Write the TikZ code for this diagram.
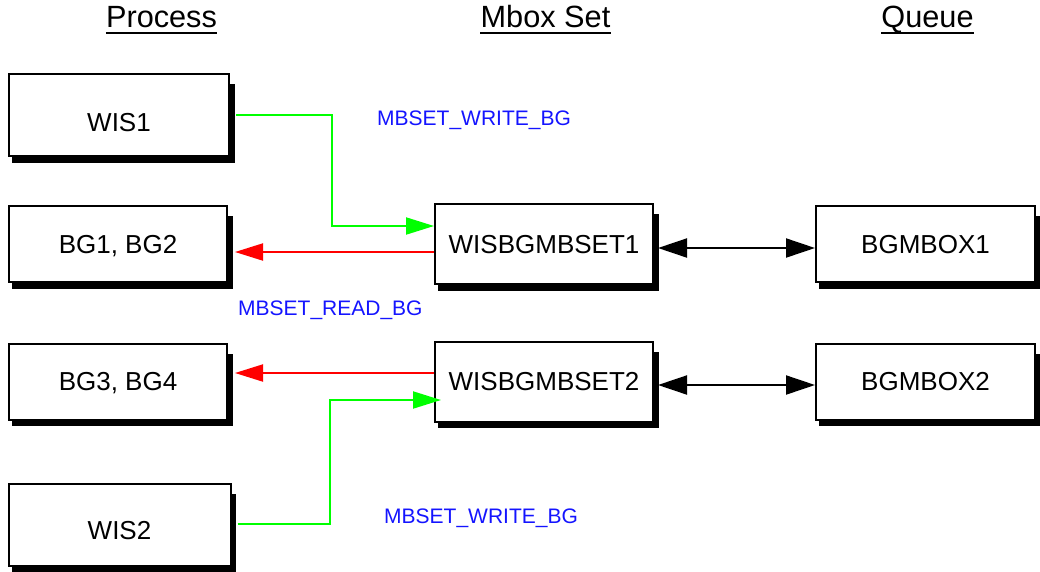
\documentclass[tikz,border=0pt]{standalone}
\usepackage{fontspec}
\setmainfont{Liberation Sans}
\usetikzlibrary{arrows.meta,backgrounds}

\definecolor{flowgreen}{RGB}{0,255,0}
\definecolor{flowred}{RGB}{255,0,0}
\definecolor{msgblue}{RGB}{20,20,255}

\tikzset{
  header/.style={inner sep=0pt, anchor=base, font=\fontsize{30.7}{34}\selectfont},
  unit/.style={draw, line width=2pt, fill=white, inner sep=0pt,
    text height=18.7pt, text depth=0pt,
    font=\fontsize{26}{30}\selectfont},
  msg/.style={inner sep=0pt, anchor=base west, text=msgblue,
    font=\fontsize{21}{24}\selectfont},
  writeflow/.style={draw=flowgreen, line width=2pt,
    -{Triangle[length=28pt,width=17pt,fill=flowgreen]}},
  readflow/.style={draw=flowred, line width=2pt,
    -{Triangle[length=28pt,width=17pt,fill=flowred]}},
  queuelink/.style={draw=black, line width=2pt,
    {Triangle[length=29pt,width=19pt]}-{Triangle[length=29pt,width=19pt]}},
  shade/.style={fill=black},
}

\begin{document}
\begin{tikzpicture}[x=1pt, y=-1pt]
\useasboundingbox (0,0) rectangle (1040,571);

% column headings
\node[header] (hproc)  at (161.5,27.5) {Process};
\node[header] (hmbox)  at (545.5,27.5) {Mbox Set};
\node[header] (hqueue) at (927.5,27.5) {Queue};
\foreach \h in {hproc,hmbox,hqueue}
  \draw[line width=2pt] ([yshift=-5.5pt]\h.base west) -- ([yshift=-5.5pt]\h.base east);

% process boxes
\node[unit, minimum width=220pt, minimum height=82pt] (wis1) at (119,115)
  {\raisebox{-7.5pt}[\height][\depth]{WIS1}};
\node[unit, minimum width=218pt, minimum height=76pt] (bg12) at (118,244) {BG1, BG2};
\node[unit, minimum width=218pt, minimum height=76pt] (bg34) at (118,381.5) {BG3, BG4};
\node[unit, minimum width=222pt, minimum height=82pt] (wis2) at (119.5,525)
  {\raisebox{-5.5pt}[\height][\depth]{WIS2}};

% mbox sets
\node[unit, minimum width=218pt, minimum height=80pt] (set1) at (544,244) {WISBGMBSET1};
\node[unit, minimum width=218pt, minimum height=80pt] (set2) at (544,381.5) {WISBGMBSET2};

% queues
\node[unit, minimum width=219pt, minimum height=76pt] (q1) at (925.5,244) {BGMBOX1};
\node[unit, minimum width=219pt, minimum height=76pt] (q2) at (925.5,381.5) {BGMBOX2};

% drop shadows behind the boxes
\begin{scope}[on background layer]
  \foreach \b in {wis1,bg12,bg34,wis2,set1,set2,q1,q2}
    \fill[shade] ([xshift=4pt,yshift=-5.5pt]\b.south west)
      rectangle ([xshift=4.5pt,yshift=-11pt]\b.north east);
\end{scope}

% message labels
\node[msg] (lw1) at (377,125) {MBSET\_WRITE\_BG};
\node[msg] (lr)  at (238,315) {MBSET\_READ\_BG};
\node[msg] (lw2) at (384,523) {MBSET\_WRITE\_BG};

% write flows
\draw[writeflow]
  ([xshift=6pt]wis1.east) -| ([xshift=-102pt,yshift=18pt]set1.west)
  -- ([yshift=18pt]set1.west);
\draw[writeflow]
  ([xshift=6pt,yshift=1pt]wis2.east) -| ([xshift=-104pt,yshift=-18.5pt]set2.west)
  -- ([xshift=7pt,yshift=-18.5pt]set2.west);

% read flows
\draw[readflow] ([yshift=-8pt]set1.west) -- ([xshift=7pt,yshift=-8pt]bg12.east);
\draw[readflow] ([yshift=8.5pt]set2.west) -- ([xshift=7pt,yshift=8.5pt]bg34.east);

% set <-> queue links
\draw[queuelink] ([xshift=4pt,yshift=-4pt]set1.east) -- ([yshift=-4pt]q1.west);
\draw[queuelink] ([xshift=4pt,yshift=-3.5pt]set2.east) -- ([yshift=-3.5pt]q2.west);
\end{tikzpicture}
\end{document}
